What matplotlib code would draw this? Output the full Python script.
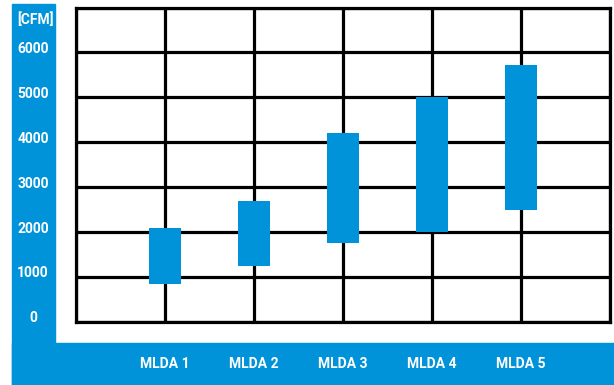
import matplotlib
matplotlib.use("Agg")
import matplotlib.pyplot as plt
from matplotlib.patches import Rectangle
from matplotlib.transforms import blended_transform_factory

categories = ["MLDA 1", "MLDA 2", "MLDA 3", "MLDA 4", "MLDA 5"]
low_values = [850, 1250, 1750, 2000, 2500]
high_values = [2090, 2700, 4200, 5000, 5730]
y_tick_values = [0, 1000, 2000, 3000, 4000, 5000, 6000]
y_tick_labels = ["0", "1000", "2000", "3000", "4000", "5000", "6000"]
unit_label = "[CFM]"

BLUE = "#0093d9"
W, H = 614, 385
fig = plt.figure(figsize=(W / 100, H / 100), dpi=100)
fig.patch.set_facecolor("white")

# blue frame strips (figure coordinates)
fig.patches.append(Rectangle((12 / W, 0), (55 - 12) / W, (H - 4) / H,
                             transform=fig.transFigure, color=BLUE, zorder=0))
fig.patches.append(Rectangle((12 / W, 0), (W - 12) / W, (H - 343) / H,
                             transform=fig.transFigure, color=BLUE, zorder=0))

left, right, top, bottom = 76, 610, 7.5, 322
ax = fig.add_axes([left / W, (H - bottom) / H, (right - left) / W, (bottom - top) / H])
ax.set_xlim(0, 6)
ax.set_ylim(0, 7000)
ax.set_xticks(range(0, 7))
ax.set_yticks(range(0, 7001, 1000))
ax.tick_params(length=0, labelbottom=False, labelleft=False)
ax.grid(True, color="black", linewidth=2.3, zorder=1)
ax.set_axisbelow(True)
for s in ax.spines.values():
    s.set_linewidth(2.3)
    s.set_color("black")

xs = list(range(1, len(categories) + 1))
heights = [h - l for h, l in zip(high_values, low_values)]
ax.bar(xs, heights, bottom=low_values, width=0.37, color=BLUE, zorder=3)

font = dict(family=["Roboto", "DejaVu Sans"], weight="bold", color="white", fontsize=10)
ty = blended_transform_factory(fig.transFigure, ax.transData)
for v, lab in zip(y_tick_values, y_tick_labels):
    fig.text(33 / W, v + 80, lab, transform=ty, ha="center", va="center", **font)
fig.text(36 / W, 6730, unit_label, transform=ty, ha="center", va="center", **font)

tx = blended_transform_factory(ax.transData, fig.transFigure)
for x, lab in zip(xs, categories):
    fig.text(x, (H - 364) / H, lab, transform=tx, ha="center", va="center", **font)

fig.savefig("out.png", dpi=100, facecolor="white")
